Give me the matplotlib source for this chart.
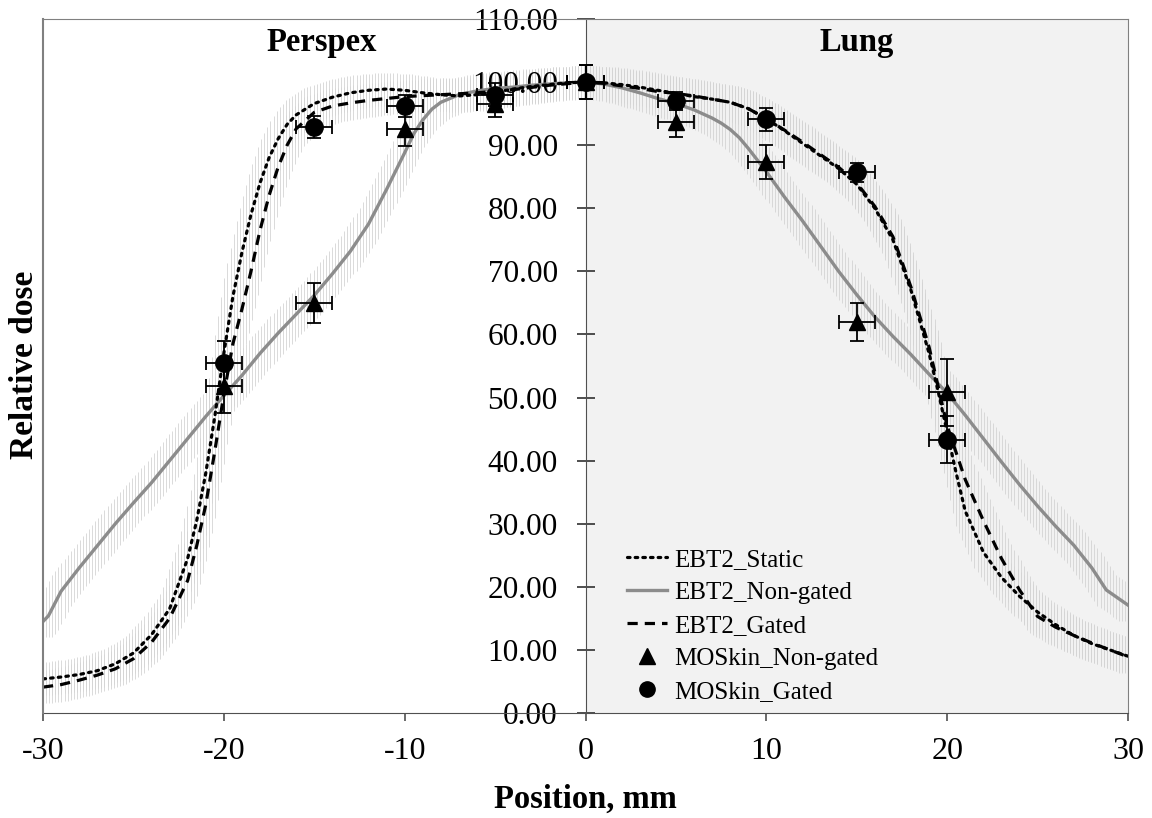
import numpy as np
import matplotlib
matplotlib.use("Agg")
import matplotlib.pyplot as plt
from matplotlib.lines import Line2D

# ---- film profiles (EBT2) ----
static_x = [-30, -29, -28, -27, -26, -25, -24, -23, -22, -21.5, -21, -20.5, -20, -19.5, -19,
            -18.5, -18, -17.5, -17, -16.5, -16, -15, -14, -13, -12, -11, -10, -9, -8, -7, -6,
            -5, -4, -3, -2, -1, 0, 1, 2, 3, 4, 5, 6, 7, 8, 9, 10, 11, 12, 13, 14, 15, 16, 17,
            18, 19, 19.5, 20, 20.5, 21, 22, 23, 24, 25, 26, 27, 28, 29, 30]
static_y = [5.4, 5.7, 6.1, 6.7, 7.8, 9.5, 12.4, 16.5, 24.5, 30.5, 38, 47, 57, 66, 73,
            79, 84, 88, 91, 93.3, 94.8, 96.6, 97.6, 98.3, 98.7, 98.9, 98.7, 98.3, 98.0, 97.8, 98.0,
            98.4, 98.9, 99.3, 99.6, 99.9, 100, 99.9, 99.6, 99.2, 98.7, 98.2, 97.7, 97.3, 96.8, 95.8, 94.2, 92.3, 90.3, 88.3, 86.3, 83.8, 80, 75,
            67, 57, 51, 44.5, 38, 32, 25.5, 21.5, 18.5, 16, 14, 12.3, 11, 10, 9]

nongated_x = [-30, -29.7, -29, -28, -27, -26, -25, -24, -23, -22, -21, -20, -19, -18, -17, -16,
              -15, -14, -13, -12, -11, -10, -9.5, -9, -8.5, -8, -7, -6, -5, -4, -3, -2, -1, 0,
              1, 2, 3, 4, 5, 6, 7, 7.5, 8, 8.5, 9, 10, 11, 12, 13, 14, 15, 16, 17, 18, 19, 20,
              21, 22, 23, 24, 25, 26, 27, 28, 28.8, 30]
nongated_y = [14.5, 15.4, 19.3, 23, 26.5, 30, 33.3, 36.5, 40, 43.5, 47, 50.3, 53.5, 57, 60.2, 63.2,
              66.2, 69.6, 73.2, 77.5, 83.0, 88.8, 91.8, 94.0, 95.7, 96.8, 98, 98.6, 99, 99.2, 99.5, 99.7, 99.9, 100,
              99.7, 99.1, 98.3, 97.4, 96.6, 95.6, 94.3, 93.5, 92.5, 91.2, 89.5, 85.8, 81.8, 78, 74, 70, 66.3, 62.8, 59.7, 56.8, 53.7, 50.7,
              47.2, 43.5, 39.8, 36.2, 32.8, 29.6, 26.6, 23, 19.5, 17.1]

gated_x = [-30, -29, -28, -27, -26, -25, -24, -23, -22, -21.5, -21, -20.5, -20, -19.5, -19,
           -18.5, -18, -17.5, -17, -16.5, -16, -15, -14, -13, -12, -10, -8, -6, -4, -2, 0,
           1, 2, 3, 4, 5, 6, 7, 8, 9, 10, 11, 12, 13, 14, 15, 16, 17, 18, 19, 20, 21, 22,
           23, 24, 25, 26, 27, 28, 29, 30]
gated_y = [4.1, 4.5, 5.2, 6.0, 7.0, 8.6, 11.2, 15, 21, 26.5, 33, 41.5, 50.5, 58.5, 64,
           70, 76.5, 82, 86.5, 90, 92.6, 95.2, 96.2, 96.7, 97.1, 97.7, 98.0, 98.3, 98.8, 99.5, 100,
           99.8, 99.4, 99.0, 98.5, 98.2, 97.8, 97.3, 96.8, 95.8, 94.2, 92.4, 90.5, 88.5, 86.5, 84, 80.3, 75.5, 67.5, 58, 45.5, 37, 30.5,
           24.5, 19.5, 15.3, 13.6, 12.3, 11.1, 10, 8.9]

# ---- MOSkin detector readings ----
mos_x = [-20, -15, -10, -5, 0, 5, 10, 15, 20]
mos_ng = [51.8, 65.0, 92.5, 96.5, 100.0, 93.6, 87.3, 62.0, 50.8]
mos_ng_err = [4.3, 3.2, 2.7, 2.0, 2.7, 2.3, 2.7, 3.0, 5.3]
mos_g = [55.4, 92.9, 96.2, 98.0, 100.0, 97.0, 94.1, 85.7, 43.3]
mos_g_err = [3.5, 1.7, 1.8, 1.8, 2.7, 1.5, 1.8, 1.5, 3.7]
pos_err = 1.0

x_ticks = [-30, -20, -10, 0, 10, 20, 30]
y_ticks = [0, 10, 20, 30, 40, 50, 60, 70, 80, 90, 100, 110]

plt.rcParams['font.family'] = ['Liberation Serif', 'DejaVu Serif']

fig = plt.figure(figsize=(11.52, 8.18), dpi=100)
ax = fig.add_axes([43 / 1152, 105 / 818, (1128 - 43) / 1152, (713 - 19) / 818])
ax.set_xlim(-30, 30)
ax.set_ylim(0, 110)

# lung region shading
ax.axvspan(0, 30, color='#f2f2f2', zorder=0, lw=0)

# film uncertainty bands drawn as fine vertical hatching
hx = np.arange(-30, 30.01, 0.17)
for cx, cy in [(static_x, static_y), (nongated_x, nongated_y), (gated_x, gated_y)]:
    cx = np.asarray(cx, float)
    cy = np.asarray(cy, float)
    shifted = np.vstack([np.interp(hx + s, cx, cy) for s in (-0.5, -0.25, 0, 0.25, 0.5)])
    lo = shifted.min(axis=0) - 2.5
    hi = shifted.max(axis=0) + 2.5
    ax.vlines(hx, np.clip(lo, 0, None), hi, colors='#d4d4d4', lw=0.6, zorder=1)

static_style = dict(color='black', lw=2.3, linestyle=(0, (0.8, 1.6)), dash_capstyle='round')
nongated_style = dict(color='#8c8c8c', lw=2.4)
gated_style = dict(color='black', lw=2.3, linestyle=(0, (3.2, 2.2)))

ax.plot(static_x, static_y, zorder=4, **static_style)
ax.plot(nongated_x, nongated_y, zorder=3, **nongated_style)
ax.plot(gated_x, gated_y, zorder=4, **gated_style)

ax.errorbar(mos_x, mos_ng, yerr=mos_ng_err, xerr=pos_err, fmt='^', color='black',
            ms=12, elinewidth=1.3, capsize=5, capthick=1.3, zorder=5)
ax.errorbar(mos_x, mos_g, yerr=mos_g_err, xerr=pos_err, fmt='o', color='black',
            ms=12.5, elinewidth=1.3, capsize=5, capthick=1.3, zorder=5)

# axes styling: y axis through x = 0, grey frame around the plot
ax.spines['left'].set_position(('data', 0))
ax.spines['left'].set_color('#505050')
ax.spines['bottom'].set_color('#505050')
for s in ('top', 'right'):
    ax.spines[s].set_color('#808080')
ax.axvline(-30, color='#808080', lw=1.5, zorder=6, clip_on=False)

ax.set_xticks(x_ticks)
ax.set_xticklabels([str(v) for v in x_ticks])
ax.set_yticks(y_ticks)
ax.set_yticklabels([f'{v:.2f}' for v in y_ticks])
ax.tick_params(axis='x', direction='out', length=6, width=1.2, labelsize=23, pad=11,
               color='#505050')
ax.tick_params(axis='y', direction='inout', length=13, width=1.2, labelsize=22.5, pad=13.5,
               color='#303030')

ax.set_xlabel('Position, mm', fontsize=23.5, fontweight='bold', labelpad=13)
fig.text(25 / 1152, 1 - 365 / 818, 'Relative dose', rotation=90, fontsize=24,
         fontweight='bold', ha='center', va='center')

ax.text(-14.6, 106.2, 'Perspex', fontsize=23.5, fontweight='bold', ha='center', va='center')
ax.text(15.0, 106.2, 'Lung', fontsize=23.5, fontweight='bold', ha='center', va='center')

handles = [
    Line2D([], [], **static_style),
    Line2D([], [], **nongated_style),
    Line2D([], [], **gated_style),
    Line2D([], [], color='black', marker='^', ms=11, linestyle='none'),
    Line2D([], [], color='black', marker='o', ms=11, linestyle='none'),
]
labels = ['EBT2_Static', 'EBT2_Non-gated', 'EBT2_Gated', 'MOSkin_Non-gated', 'MOSkin_Gated']
ax.legend(handles, labels, loc='upper left', bbox_to_anchor=(0.529, 0.252), borderaxespad=0,
          frameon=False, fontsize=18, handlelength=1.6, handletextpad=0.3, labelspacing=0.42)

fig.savefig('out.png', dpi=100)
